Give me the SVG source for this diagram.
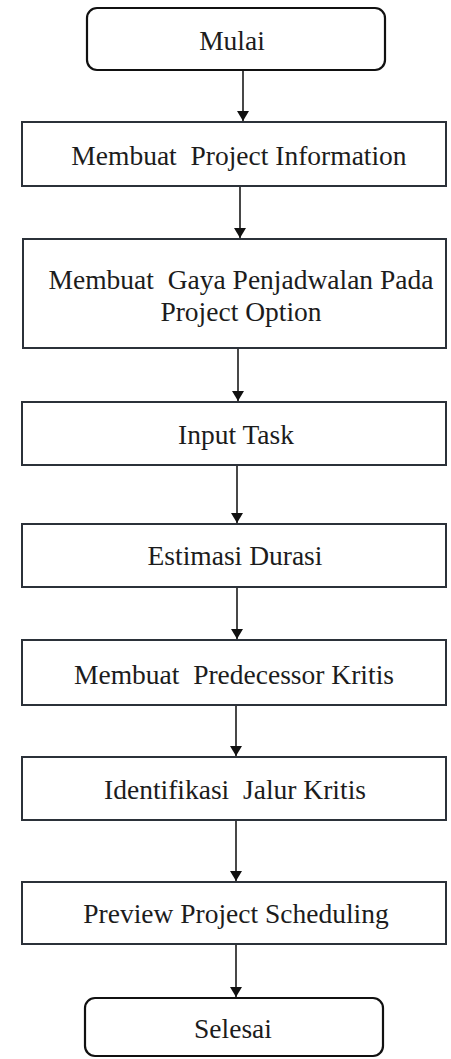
<svg xmlns="http://www.w3.org/2000/svg" width="451" height="1059" viewBox="0 0 451 1059">
  <style>
    .box { fill: #ffffff; stroke: #2b3139; stroke-width: 2; }
    .term { fill: #ffffff; stroke: #111111; stroke-width: 2.2; }
    .label { font-family: 'Liberation Serif', 'Times New Roman', serif; font-size: 27.5px; fill: #1c1c1c; text-anchor: middle; }
    .flow { stroke: #1a1a1a; stroke-width: 1.6; fill: none; marker-end: url(#head); }
  </style>
  <defs>
    <!-- filled triangular arrowhead for the flow lines -->
    <marker id="head" viewBox="0 0 10 12" refX="10" refY="6" markerWidth="10" markerHeight="12" markerUnits="userSpaceOnUse" orient="auto">
      <path d="M0,0 L10,6 L0,12 Z" fill="#111111"/>
    </marker>
  </defs>
  <rect width="451" height="1059" fill="#ffffff"/>

  <g id="connectors">
    <line class="flow" x1="243" y1="71" x2="243" y2="121"/>
    <line class="flow" x1="240" y1="187" x2="240" y2="238"/>
    <line class="flow" x1="238" y1="349" x2="238" y2="401"/>
    <line class="flow" x1="237" y1="466" x2="237" y2="523"/>
    <line class="flow" x1="237" y1="588" x2="237" y2="639"/>
    <line class="flow" x1="236" y1="706" x2="236" y2="756"/>
    <line class="flow" x1="236" y1="821" x2="236" y2="881"/>
    <line class="flow" x1="236" y1="945" x2="236" y2="997"/>
  </g>

  <g id="mulai">
    <rect class="term" x="87" y="8" width="298" height="62" rx="10"/>
    <text class="label" x="232" y="50">Mulai</text>
  </g>

  <g id="project-information">
    <rect class="box" x="22" y="122" width="424" height="64"/>
    <text class="label" x="239" y="165" xml:space="preserve">Membuat  Project Information</text>
  </g>

  <g id="project-option">
    <rect class="box" x="23" y="239" width="423" height="109"/>
    <text class="label" x="241" y="289" xml:space="preserve">Membuat  Gaya Penjadwalan Pada</text>
    <text class="label" x="241" y="321">Project Option</text>
  </g>

  <g id="input-task">
    <rect class="box" x="22" y="402" width="424" height="63"/>
    <text class="label" x="236" y="444">Input Task</text>
  </g>

  <g id="estimasi-durasi">
    <rect class="box" x="22" y="524" width="424" height="63"/>
    <text class="label" x="235" y="565">Estimasi Durasi</text>
  </g>

  <g id="predecessor">
    <rect class="box" x="22" y="640" width="424" height="65"/>
    <text class="label" x="234" y="684" xml:space="preserve">Membuat  Predecessor Kritis</text>
  </g>

  <g id="jalur-kritis">
    <rect class="box" x="22" y="757" width="424" height="63"/>
    <text class="label" x="235" y="799" xml:space="preserve">Identifikasi  Jalur Kritis</text>
  </g>

  <g id="preview">
    <rect class="box" x="22" y="882" width="424" height="62"/>
    <text class="label" x="236" y="923">Preview Project Scheduling</text>
  </g>

  <g id="selesai">
    <rect class="term" x="85" y="998" width="298" height="58" rx="10"/>
    <text class="label" x="233" y="1038">Selesai</text>
  </g>
</svg>
